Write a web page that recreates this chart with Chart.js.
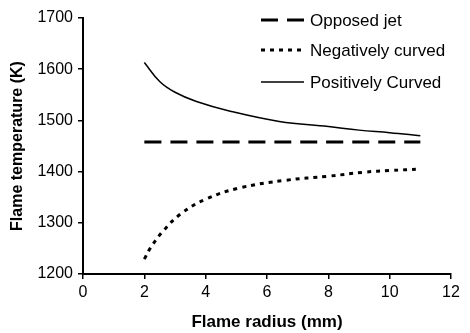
<!DOCTYPE html>
<html><head><meta charset="utf-8">
<script src="https://cdn.jsdelivr.net/npm/chart.js@4/dist/chart.umd.min.js"></script>
<style>html,body{margin:0;padding:0;background:#fff}#wrap{width:470px;height:333px}</style>
</head><body><div id="wrap"><canvas id="c" width="470" height="333"></canvas></div>
<script>
const seriesNames = ["Opposed jet", "Negatively curved", "Positively Curved"];
const opposedX = [2, 11];
const opposedY = [1458, 1458];
const negX = [2, 2.2, 2.6, 3.2, 4.0, 5.1, 6.6, 8.0, 9.2, 10.0, 11.0];
const negY = [1229, 1251, 1283, 1318, 1346, 1368, 1383, 1391, 1399, 1402, 1405];
const posX = [2, 2.5, 3.0, 3.7, 4.8, 6.4, 8.0, 9.0, 10.0, 11.0];
const posY = [1613, 1576, 1555, 1537, 1518, 1498, 1488, 1481, 1476, 1470];
const xTicks = [0, 2, 4, 6, 8, 10, 12];
const yTicks = [1200, 1300, 1400, 1500, 1600, 1700];

const FONT = '"Liberation Sans", Arial, sans-serif';
const pts = (xs, ys) => xs.map((x, i) => ({x: x, y: ys[i]}));
const styles = [
  {borderWidth: 3, borderDash: [17, 9]},
  {borderWidth: 3, borderDash: [4, 5]},
  {borderWidth: 1.5, borderDash: []}
];

const legendPlugin = {
  id: 'customLegend',
  afterDraw(chart) {
    const ctx = chart.ctx;
    const rows = [20, 50, 82];
    ctx.save();
    chart.data.datasets.forEach((ds, i) => {
      const y = rows[i];
      ctx.beginPath();
      ctx.strokeStyle = '#000';
      ctx.lineWidth = ds.borderWidth;
      ctx.setLineDash(ds.borderDash || []);
      ctx.moveTo(261, y);
      ctx.lineTo(304, y);
      ctx.stroke();
      ctx.setLineDash([]);
      ctx.fillStyle = '#000';
      ctx.font = '17px ' + FONT;
      ctx.textBaseline = 'middle';
      ctx.textAlign = 'left';
      ctx.fillText(ds.label, 310, y + 1);
    });
    ctx.restore();
  }
};

new Chart(document.getElementById('c'), {
  type: 'line',
  data: {
    datasets: [
      {label: seriesNames[0], data: pts(opposedX, opposedY), ...styles[0]},
      {label: seriesNames[1], data: pts(negX, negY), ...styles[1]},
      {label: seriesNames[2], data: pts(posX, posY), ...styles[2]}
    ].map(d => Object.assign(d, {borderColor: '#000', backgroundColor: '#000', pointRadius: 0, tension: 0.4, fill: false, borderCapStyle: 'butt'}))
  },
  options: {
    responsive: false,
    animation: false,
    devicePixelRatio: 1,
    layout: {padding: {top: 18, right: 19, left: 0, bottom: 0}},
    plugins: {legend: {display: false}, tooltip: {enabled: false}},
    scales: {
      x: {
        type: 'linear', min: 0, max: 12,
        afterBuildTicks: s => { s.ticks = xTicks.map(v => ({value: v})); },
        afterFit: s => { s.height = 59; },
        grid: {drawOnChartArea: false, drawTicks: true, tickLength: 5, color: '#000', lineWidth: 1.5},
        border: {color: '#000', width: 2},
        ticks: {color: '#000', font: {size: 16, family: FONT}, padding: 4, maxRotation: 0, callback: v => String(v)},
        title: {display: true, text: 'Flame radius (mm)', color: '#000', font: {size: 17, weight: 'bold', family: FONT}, padding: {top: 0, bottom: 0}}
      },
      y: {
        min: 1200, max: 1700,
        afterBuildTicks: s => { s.ticks = yTicks.map(v => ({value: v})); },
        afterFit: s => { s.width = 83; },
        grid: {drawOnChartArea: false, drawTicks: true, tickLength: 5, color: '#000', lineWidth: 1.5},
        border: {color: '#000', width: 2},
        ticks: {color: '#000', font: {size: 16, family: FONT}, padding: 5, callback: v => String(v)},
        title: {display: true, text: 'Flame temperature (K)', color: '#000', font: {size: 16, weight: 'bold', family: FONT}, padding: {top: 8, bottom: 0}}
      }
    }
  },
  plugins: [legendPlugin]
});
</script>
</body></html>
